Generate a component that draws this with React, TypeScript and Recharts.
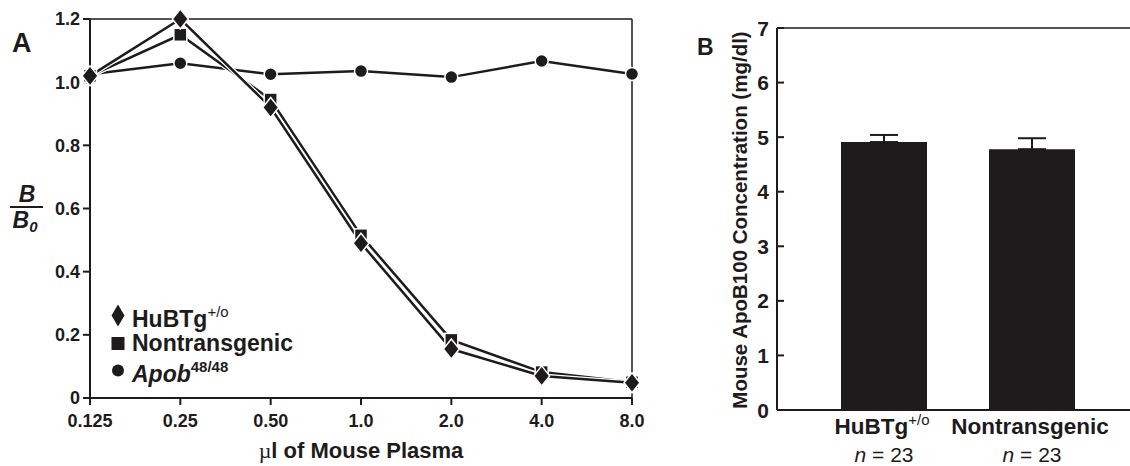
import React from 'react';
import {
  LineChart, Line, BarChart, Bar, ErrorBar, XAxis, YAxis, Label, Legend, ReferenceLine,
} from 'recharts';

const FONT = '"Liberation Sans", Arial, Helvetica, sans-serif';
const INK = '#1d1b1c';

// Panel A: competition curves
const doses = ['0.125', '0.25', '0.50', '1.0', '2.0', '4.0', '8.0'];
const huBTg = [1.02, 1.2, 0.92, 0.49, 0.155, 0.07, 0.048];
const nonTg = [1.02, 1.15, 0.945, 0.515, 0.184, 0.082, 0.05];
const apob = [1.025, 1.06, 1.025, 1.035, 1.016, 1.067, 1.026];
const ratioTicks = [0, 0.2, 0.4, 0.6, 0.8, 1.0, 1.2];

// Panel B: plasma concentrations
const groups = ['HuBTg', 'Nontransgenic'];
const groupSups = ['+/o', ''];
const groupN = [23, 23];
const concMeans = [4.91, 4.78];
const concErrs = [0.13, 0.2];
const concTicks = [0, 1, 2, 3, 4, 5, 6, 7];

const tableA = doses.map((dose, i) => ({
  dose,
  huBTg: huBTg[i],
  nonTg: nonTg[i],
  apob: apob[i],
}));

const tableB = groups.map((group, i) => ({
  group,
  conc: concMeans[i],
  err: [0, concErrs[i]],
}));

const Diamond = ({ cx, cy }: any) => (
  <polygon
    points={`${cx},${cy - 10} ${cx + 8},${cy} ${cx},${cy + 10} ${cx - 8},${cy}`}
    fill={INK}
    stroke="#fff"
    strokeWidth={1.5}
  />
);

const Square = ({ cx, cy }: any) => (
  <rect x={cx - 6.5} y={cy - 6.5} width={13} height={13} fill={INK} stroke="#fff" strokeWidth={1.5} />
);

const Dot = ({ cx, cy }: any) => <circle cx={cx} cy={cy} r={6.5} fill={INK} stroke="#fff" strokeWidth={1.5} />;

const legendRows = [
  { icon: 'diamond', name: 'HuBTg', sup: '+/o', italic: false, supWeight: 400 },
  { icon: 'square', name: 'Nontransgenic', sup: '', italic: false, supWeight: 700 },
  { icon: 'circle', name: 'Apob', sup: '48/48', italic: true, supWeight: 700 },
];

const LegendIcon = ({ kind }: { kind: string }) => (
  <svg width={28} height={27}>
    {kind === 'diamond' && <polygon points="14,2.5 20.5,13.5 14,24.5 7.5,13.5" fill={INK} />}
    {kind === 'square' && <rect x={7.5} y={7} width={13} height={13} fill={INK} />}
    {kind === 'circle' && <circle cx={14} cy={13.5} r={6} fill={INK} />}
  </svg>
);

const renderLegend = () => (
  <div style={{ fontFamily: FONT, color: INK }}>
    {legendRows.map((row) => (
      <div key={row.name} style={{ display: 'flex', alignItems: 'center', height: 27.5 }}>
        <LegendIcon kind={row.icon} />
        <span style={{ fontSize: 23, fontWeight: 700, lineHeight: '27px', fontStyle: row.italic ? 'italic' : 'normal' }}>
          {row.name}
          {row.sup && (
            <sup style={{ fontSize: 15, fontWeight: row.supWeight, fontStyle: 'normal', verticalAlign: 10 }}>{row.sup}</sup>
          )}
        </span>
      </div>
    ))}
  </div>
);

const renderFraction = (props: any) => {
  const { viewBox } = props;
  const cx = viewBox.x - 13;
  const top = viewBox.y;
  return (
    <g fill={INK} style={{ fontFamily: FONT }}>
      <text x={cx} y={top + 183} textAnchor="middle" fontSize={23} fontWeight={700} fontStyle="italic">B</text>
      <line x1={cx - 17} x2={cx + 16} y1={top + 188} y2={top + 188} stroke={INK} strokeWidth={2} />
      <text x={cx - 2} y={top + 209} textAnchor="middle" fontSize={23} fontWeight={700} fontStyle="italic">
        B<tspan fontSize={15} dy={4}>0</tspan>
      </text>
    </g>
  );
};

const renderDoseLabel = (props: any) => {
  const { viewBox } = props;
  return (
    <text
      x={viewBox.x + viewBox.width / 2}
      y={viewBox.y + 60}
      textAnchor="middle"
      fill={INK}
      fontSize={22}
      fontWeight={700}
      style={{ fontFamily: FONT }}
    >
      <tspan style={{ fontFamily: '"Liberation Serif", serif' }} fontWeight={400}>µ</tspan>l of Mouse Plasma
    </text>
  );
};

const renderConcLabel = (props: any) => {
  const { viewBox } = props;
  const x = viewBox.x + 10;
  const y = viewBox.y + viewBox.height / 2 + 1;
  return (
    <text
      x={x}
      y={y}
      transform={`rotate(-90 ${x} ${y})`}
      textAnchor="middle"
      fill={INK}
      fontSize={20.5}
      fontWeight={700}
      style={{ fontFamily: FONT }}
    >
      Mouse ApoB100 Concentration (mg/dl)
    </text>
  );
};

const ValueTick = ({ x, y, payload }: any) => (
  <g>
    <line x1={x + 7} x2={x + 14} y1={y} y2={y} stroke={INK} strokeWidth={2} />
    <text x={x - 1} y={y} dy="0.36em" textAnchor="end" fill={INK} fontSize={21} fontWeight={700} style={{ fontFamily: FONT }}>
      {payload.value}
    </text>
  </g>
);

const GroupTick = ({ x, y, payload, index }: any) => {
  const i = typeof index === 'number' ? index : groups.indexOf(payload.value);
  return (
    <g fill={INK} style={{ fontFamily: FONT }}>
      <text x={x - 2} y={y + 24} textAnchor="middle" fontSize={22.5} fontWeight={700}>
        {payload.value}
        {groupSups[i] && <tspan fontSize={15} fontWeight={400} dy={-9}>{groupSups[i]}</tspan>}
      </text>
      <text x={x} y={y + 52} textAnchor="middle" fontSize={21}>
        <tspan fontStyle="italic">n</tspan> = {groupN[i]}
      </text>
    </g>
  );
};

const seriesA = [
  { key: 'apob', Shape: Dot },
  { key: 'nonTg', Shape: Square },
  { key: 'huBTg', Shape: Diamond },
];

const axisTickA = { fontSize: 18, fontWeight: 700, fill: INK, fontFamily: FONT };

export default function App() {
  return (
    <div style={{ position: 'absolute', left: 0, top: 0, width: 1130, height: 466, background: '#fff', fontFamily: FONT }}>
      <div style={{ position: 'absolute', left: 0, top: 0 }}>
        <LineChart width={660} height={466} data={tableA} margin={{ top: 19, right: 28, bottom: 38, left: 40 }}>
          <XAxis
            dataKey="dose"
            interval={0}
            height={30}
            tickSize={7}
            tickMargin={9}
            stroke={INK}
            strokeWidth={2}
            tick={axisTickA}
          >
            <Label content={renderDoseLabel} />
          </XAxis>
          <YAxis
            type="number"
            domain={[0, 1.2]}
            ticks={ratioTicks}
            width={50}
            tickSize={7}
            tickMargin={3}
            stroke={INK}
            strokeWidth={2}
            tick={axisTickA}
            tickFormatter={(v: number) => (v === 0 ? '0' : v.toFixed(1))}
          >
            <Label content={renderFraction} />
          </YAxis>
          <ReferenceLine y={1.2} stroke={INK} strokeWidth={1.5} />
          <ReferenceLine x="8.0" stroke={INK} strokeWidth={1.5} />
          {seriesA.flatMap(({ key, Shape }) => [
            <Line
              key={`${key}-casing`}
              dataKey={key}
              stroke="#fff"
              strokeWidth={5}
              dot={false}
              activeDot={false}
              legendType="none"
              isAnimationActive={false}
            />,
            <Line
              key={key}
              dataKey={key}
              stroke={INK}
              strokeWidth={2.5}
              dot={(p: any) => <Shape key={`${key}-${p.index}`} cx={p.cx} cy={p.cy} />}
              activeDot={false}
              isAnimationActive={false}
            />,
          ])}
          <Legend
            layout="vertical"
            verticalAlign="middle"
            align="center"
            wrapperStyle={{ left: 104, top: 302, width: 260 }}
            content={renderLegend}
          />
        </LineChart>
      </div>

      <div style={{ position: 'absolute', left: 700, top: 0 }}>
        <BarChart width={430} height={466} data={tableB} margin={{ top: 28, right: 0, bottom: 0, left: 37 }}>
          <XAxis
            dataKey="group"
            interval={0}
            height={56}
            tickSize={0}
            tickMargin={0}
            tickLine={false}
            stroke={INK}
            strokeWidth={2}
            padding={{ left: 33, right: 24 }}
            tick={<GroupTick />}
          />
          <YAxis
            type="number"
            domain={[0, 7]}
            ticks={concTicks}
            width={40}
            tickSize={0}
            tickLine={false}
            tickMargin={7}
            stroke={INK}
            strokeWidth={2}
            tick={<ValueTick />}
          >
            <Label content={renderConcLabel} />
          </YAxis>
          <ReferenceLine y={7} stroke={INK} strokeWidth={1.5} />
          <Bar dataKey="conc" fill={INK} barSize={86} isAnimationActive={false}>
            <ErrorBar dataKey="err" direction="y" width={14} stroke={INK} strokeWidth={2} />
          </Bar>
        </BarChart>
      </div>

      <svg width={1130} height={466} style={{ position: 'absolute', left: 0, top: 0, pointerEvents: 'none' }}>
        <text x={12} y={52} fontSize={27} fontWeight={700} fill={INK} style={{ fontFamily: FONT }}>A</text>
        <text x={697} y={55} fontSize={23} fontWeight={700} fill={INK} style={{ fontFamily: FONT }}>B</text>
      </svg>
    </div>
  );
}
